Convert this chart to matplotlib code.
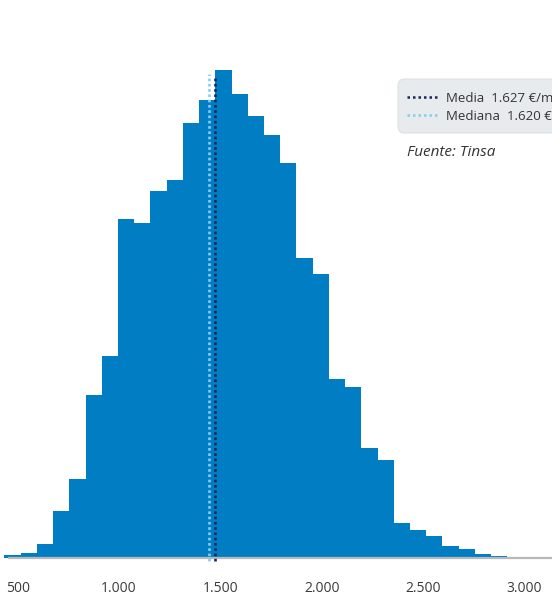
import matplotlib
matplotlib.use("Agg")
import matplotlib.pyplot as plt
from matplotlib.patches import FancyBboxPatch
import numpy as np

# price bins (EUR/m2) and counts
bin_start = 435
bin_width = 80
counts = [3, 5, 14, 47, 79, 163, 202, 339, 335, 367, 378, 435, 458, 488,
          464, 442, 423, 395, 300, 284, 179, 171, 110, 98, 35, 28, 22, 12,
          9, 4, 2]

tick_values = [500, 1000, 1500, 2000, 2500, 3000]
tick_labels = ["500", "1.000", "1.500", "2.000", "2.500", "3.000"]

mean_text = "Media  1.627 €/m²"
median_text = "Mediana  1.620 €/m²"
# where the lines are drawn on the chart
mean_pos = 1471
median_pos = 1443

BAR = "#007dc3"
DARK = "#16265a"
LIGHT = "#86cdf0"

plt.rcParams["font.family"] = ["Open Sans", "DejaVu Sans"]

W, H = 552, 595
fig = plt.figure(figsize=(W / 100, H / 100), dpi=100)
ax = fig.add_axes([0, 37.5 / H, 1, 1 - 37.5 / H])

edges = bin_start + bin_width * np.arange(len(counts) + 1)
ax.bar(edges[:-1], counts, width=bin_width, align="edge", color=BAR,
       linewidth=0, zorder=2)

ax.set_xlim(413, 3135)
ax.set_ylim(0, 557.5)

# base line
ax.plot([450, 3135], [0, 0], color="#b8b8b8", lw=1.6, zorder=3,
        solid_capstyle="butt", clip_on=False)

# mean / median lines
ax.plot([median_pos, median_pos], [-3, 484], color=LIGHT, lw=1.9,
        linestyle=(0, (1, 1)), zorder=4, clip_on=False)
ax.plot([mean_pos, mean_pos], [-3, 482], color=DARK, lw=1.9,
        linestyle=(0, (1, 1)), zorder=5, clip_on=False)

ax.set_xticks(tick_values, tick_labels)
ax.tick_params(axis="x", length=0, pad=17, labelsize=10, labelcolor="#3a3a3a")
ax.set_yticks([])
for s in ax.spines.values():
    s.set_visible(False)


def fx(px):
    return px / W


def fy(py):
    return 1 - py / H


# legend box
box = FancyBboxPatch((fx(398), fy(133)), fx(200), 54 / H,
                     boxstyle="round,pad=0,rounding_size=0.012",
                     transform=fig.transFigure, facecolor="#e8ebee",
                     edgecolor="#dde1e5", lw=0.8)
fig.add_artist(box)

fig.add_artist(plt.Line2D([fx(407), fx(437)], [fy(97), fy(97)], color=DARK,
                          lw=1.8, linestyle=(0, (1, 1.2))))
fig.add_artist(plt.Line2D([fx(407), fx(437)], [fy(115), fy(115)], color=LIGHT,
                          lw=1.8, linestyle=(0, (1, 1.2))))
fig.text(fx(446), fy(98), mean_text, fontsize=9.5, color="#333333", va="center")
fig.text(fx(446), fy(116), median_text, fontsize=9.5, color="#333333", va="center")

fig.text(fx(407), fy(152), "Fuente: Tinsa", fontsize=11, style="italic",
         color="#333333", va="center")

fig.savefig("out.png", dpi=100)
